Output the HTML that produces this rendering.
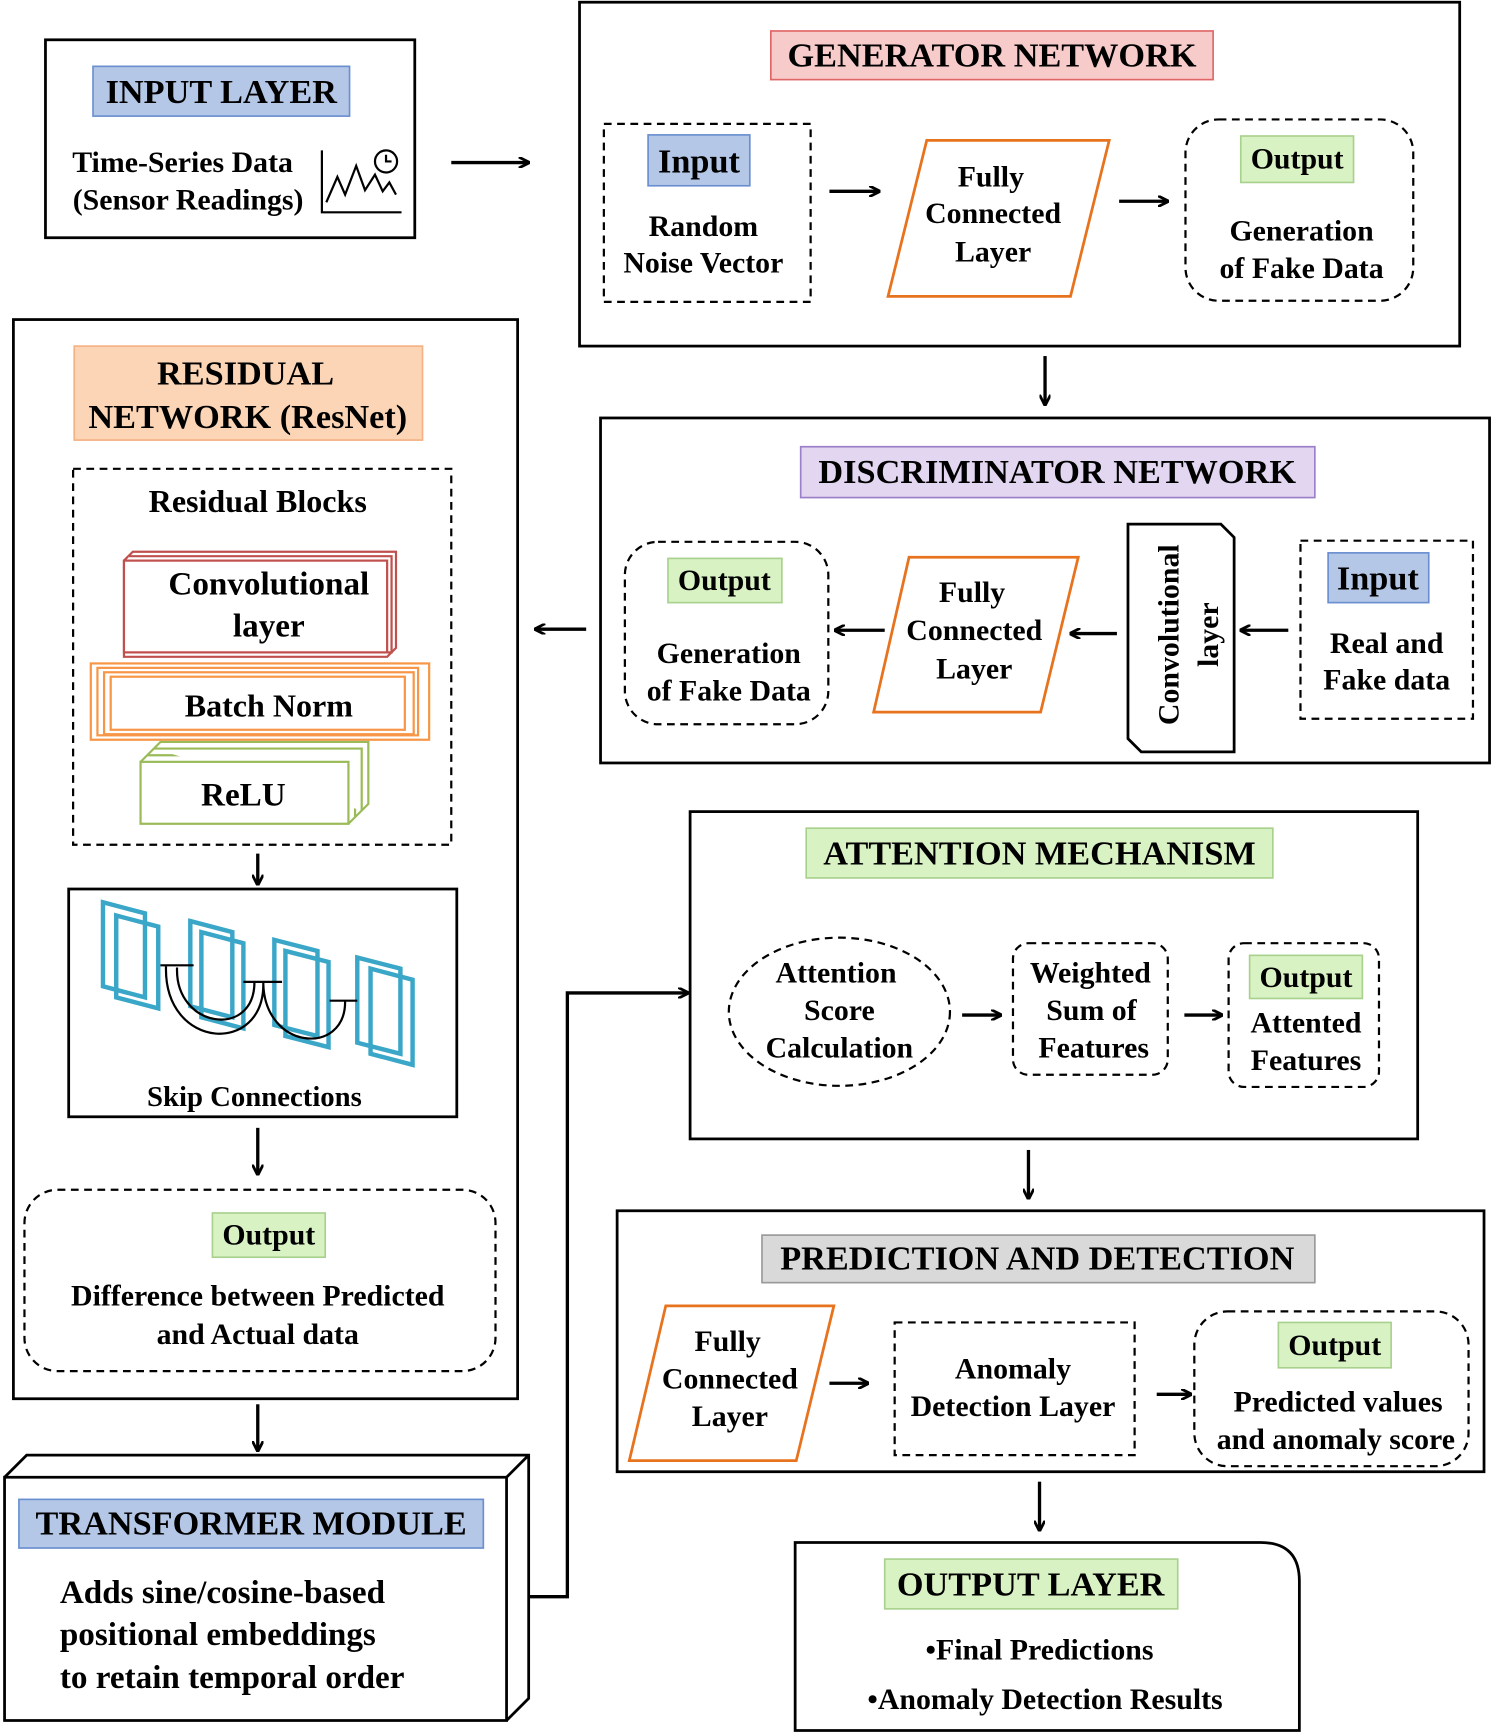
<!DOCTYPE html>
<html><head><meta charset="utf-8"><style>html,body{margin:0;padding:0;background:#fff}svg{display:block}svg text{font-family:"Liberation Serif","Times New Roman",serif;font-weight:bold}</style></head><body>
<svg xmlns="http://www.w3.org/2000/svg" width="1493" height="1736" viewBox="0 0 1350 1570">
<defs><marker id="a" markerWidth="10" markerHeight="10" refX="9" refY="5" orient="auto" markerUnits="userSpaceOnUse"><path d="M0,0 L10,5 L0,10" fill="none" stroke="#000" stroke-width="2.5"/></marker></defs>
<g fill="none" stroke="#000" stroke-width="2.5">
<rect x="41" y="36" width="334" height="179"/>
<rect x="524" y="2" width="796" height="311"/>
<rect x="543" y="378" width="804" height="312"/>
<rect x="12" y="289" width="456" height="976"/>
<rect x="62" y="804" width="351" height="206"/>
<rect x="624" y="734" width="658" height="296"/>
<rect x="558" y="1095" width="784" height="236"/>
<path d="M719,1565 V1395 H1140 Q1175,1395 1175,1430 V1565 Z"/>
<path d="M4,1336 H458 V1556 H4 Z M4,1336 L24,1316 H478 V1536 L458,1556 M458,1336 L478,1316"/>
<path d="M1020,474 H1104 L1116,486 V680 H1032 L1020,668 Z"/>
</g>
<g fill="none" stroke="#000" stroke-width="2" stroke-dasharray="7,5">
<rect x="546" y="112" width="187" height="161"/>
<rect x="1072" y="108" width="206" height="164" rx="30"/>
<rect x="565" y="490" width="184" height="165" rx="30"/>
<rect x="1176" y="489" width="156" height="161"/>
<rect x="66" y="424" width="342" height="340"/>
<rect x="22" y="1076" width="426" height="164" rx="30"/>
<ellipse cx="759" cy="915" rx="100" ry="67"/>
<rect x="916" y="853" width="140" height="119" rx="14"/>
<rect x="1111" y="853" width="136" height="130" rx="14"/>
<rect x="809" y="1196" width="217" height="120"/>
<rect x="1080" y="1186" width="248" height="140" rx="30"/>
</g>
<g fill="none" stroke="#e8731e" stroke-width="2.5">
<path d="M838,127 H1003 L968,268 H803 Z"/>
<path d="M822,504 H975 L941,644 H790 Z"/>
<path d="M602,1181 H754 L720,1321 H569 Z"/>
</g>
<g fill="#fff" stroke="#c0504d" stroke-width="2"><path d="M120,499 H358 V586 L350,594 H112 V507 Z"/><path d="M116,503 H354 V590 H112"/><rect x="112" y="507" width="238" height="83"/></g>
<g fill="#fff" stroke="#f79646" stroke-width="2"><rect x="82" y="600" width="306" height="69"/><rect x="88" y="604" width="290" height="61"/><rect x="94" y="608" width="280" height="56"/><rect x="100" y="612" width="266" height="48"/></g>
<g fill="#fff" stroke="#9bbb59" stroke-width="2"><path d="M127,689 L145,671 H333 V727 L315,745"/><path d="M133,683 H321 V739"/><path d="M139,677 H327 V733"/><rect x="127" y="689" width="188" height="56"/></g>
<g fill="none" stroke="#3aa6c8" stroke-width="4">
<path d="M93,816 L131,826 V902 L93,892 Z"/><path d="M105,828 L143,838 V912 L105,902 Z"/>
<path d="M172,833 L210,843 V920 L172,910 Z"/><path d="M182,843 L220,853 V930 L182,920 Z"/>
<path d="M248,850 L287,860 V937 L248,927 Z"/><path d="M258,860 L297,870 V947 L258,937 Z"/>
<path d="M323,866 L362,876 V953 L323,943 Z"/><path d="M335,876 L373,886 V963 L335,953 Z"/>
</g>
<g fill="none" stroke="#000" stroke-width="2"><path d="M145,873 H175 M220,888 H255 M298,905 H323 M150,874 C148,950 240,955 238,888 M238,890 C240,950 312,955 312,906 M160,875 C158,930 230,940 230,888"/></g>
<g fill="none" stroke="#000" stroke-width="2"><path d="M291,136 V192 H363 M295,183 L305,160 L312,176 L322,150 L330,172 L339,158 L346,173 L352,165 L358,176"/><circle cx="349" cy="146" r="10"/><path d="M349,140 V146 H354"/></g>
<g fill="none" stroke="#000" stroke-width="3" marker-end="url(#a)">
<path d="M408,147 H478"/><path d="M750,173 H795"/><path d="M1012,182 H1056"/><path d="M945,322 V366"/>
<path d="M800,570 H755"/><path d="M1010,573 H968"/><path d="M1165,570 H1122"/><path d="M530,569 H484"/>
<path d="M233,772 V800"/><path d="M233,1020 V1062"/><path d="M233,1270 V1312"/>
<path d="M478,1444 H513 V898 H622"/>
<path d="M870,918 H905"/><path d="M1071,918 H1105"/><path d="M930,1040 V1084"/>
<path d="M750,1251 H785"/><path d="M1046,1261 H1077"/><path d="M940,1340 V1384"/>
</g>
<g stroke-width="1.5">
<rect x="84" y="60" width="232" height="45" fill="#b4c7e7" stroke="#6a8fd0"/>
<rect x="697" y="28" width="400" height="44" fill="#f8cbcb" stroke="#e06666"/>
<rect x="586" y="122" width="92" height="46" fill="#b4c7e7" stroke="#6a8fd0"/>
<rect x="1122" y="123" width="102" height="42" fill="#d9f2c4" stroke="#a9d18e"/>
<rect x="724" y="404" width="465" height="46" fill="#e2d6f0" stroke="#9b7fc8"/>
<rect x="604" y="505" width="103" height="40" fill="#d9f2c4" stroke="#a9d18e"/>
<rect x="1201" y="500" width="91" height="45" fill="#b4c7e7" stroke="#6a8fd0"/>
<rect x="67" y="313" width="315" height="85" fill="#fbd5b5" stroke="#f4b183"/>
<rect x="192" y="1097" width="102" height="40" fill="#d9f2c4" stroke="#a9d18e"/>
<rect x="17" y="1356" width="420" height="44" fill="#b4c7e7" stroke="#6a8fd0"/>
<rect x="729" y="749" width="422" height="45" fill="#d9f2c4" stroke="#a9d18e"/>
<rect x="1130" y="864" width="102" height="39" fill="#d9f2c4" stroke="#a9d18e"/>
<rect x="689" y="1117" width="500" height="43" fill="#d9d9d9" stroke="#999"/>
<rect x="1156" y="1196" width="102" height="41" fill="#d9f2c4" stroke="#a9d18e"/>
<rect x="800" y="1410" width="265" height="45" fill="#d9f2c4" stroke="#a9d18e"/>
</g>
<g fill="#000" text-anchor="middle" dominant-baseline="central" font-size="27">
<text x="200" y="83" font-size="31">INPUT LAYER</text>
<text x="165" y="147">Time-Series Data</text><text x="170" y="181">(Sensor Readings)</text>
<text x="897" y="50" font-size="31">GENERATOR NETWORK</text>
<text x="632" y="146" font-size="31">Input</text>
<text x="636" y="205">Random</text><text x="636" y="238">Noise Vector</text>
<text x="896" y="160">Fully</text><text x="898" y="193">Connected</text><text x="898" y="228">Layer</text>
<text x="1173" y="144">Output</text>
<text x="1177" y="209">Generation</text><text x="1177" y="243">of Fake Data</text>
<text x="956" y="427" font-size="31">DISCRIMINATOR NETWORK</text>
<text x="655" y="525">Output</text>
<text x="659" y="591">Generation</text><text x="659" y="625">of Fake Data</text>
<text x="879" y="536">Fully</text><text x="881" y="570">Connected</text><text x="881" y="605">Layer</text>
<text transform="translate(1057,574) rotate(-90)">Convolutional</text>
<text transform="translate(1093,574) rotate(-90)">layer</text>
<text x="1246" y="523" font-size="31">Input</text>
<text x="1254" y="582">Real and</text><text x="1254" y="615">Fake data</text>
<text x="222" y="338" font-size="31">RESIDUAL</text><text x="224" y="377" font-size="31">NETWORK (ResNet)</text>
<text x="233" y="453" font-size="29">Residual Blocks</text>
<text x="243" y="528" font-size="30">Convolutional</text><text x="243" y="566" font-size="30">layer</text>
<text x="243" y="638" font-size="29">Batch Norm</text>
<text x="220" y="719" font-size="30">ReLU</text>
<text x="230" y="992" font-size="26">Skip Connections</text>
<text x="243" y="1117">Output</text>
<text x="233" y="1172">Difference between Predicted</text><text x="233" y="1207">and Actual data</text>
<text x="227" y="1378" font-size="31">TRANSFORMER MODULE</text>
<text x="940" y="772" font-size="31">ATTENTION MECHANISM</text>
<text x="756" y="880">Attention</text><text x="759" y="914">Score</text><text x="759" y="948">Calculation</text>
<text x="986" y="880">Weighted</text><text x="987" y="914">Sum of</text><text x="989" y="948">Features</text>
<text x="1181" y="884">Output</text>
<text x="1181" y="925">Attented</text><text x="1181" y="959">Features</text>
<text x="938" y="1138" font-size="31">PREDICTION AND DETECTION</text>
<text x="658" y="1213">Fully</text><text x="660" y="1247">Connected</text><text x="660" y="1281">Layer</text>
<text x="916" y="1238">Anomaly</text><text x="916" y="1272">Detection Layer</text>
<text x="1207" y="1217">Output</text>
<text x="1210" y="1268">Predicted values</text><text x="1208" y="1302">and anomaly score</text>
<text x="932" y="1433" font-size="31">OUTPUT LAYER</text>
<text x="940" y="1492">•Final Predictions</text>
<text x="945" y="1537">•Anomaly Detection Results</text>
</g>
<g fill="#000" font-size="30" dominant-baseline="central">
<text x="54" y="1440">Adds sine/cosine-based</text>
<text x="54" y="1478">positional embeddings</text>
<text x="54" y="1517">to retain temporal order</text>
</g>
</svg>
</body></html>
